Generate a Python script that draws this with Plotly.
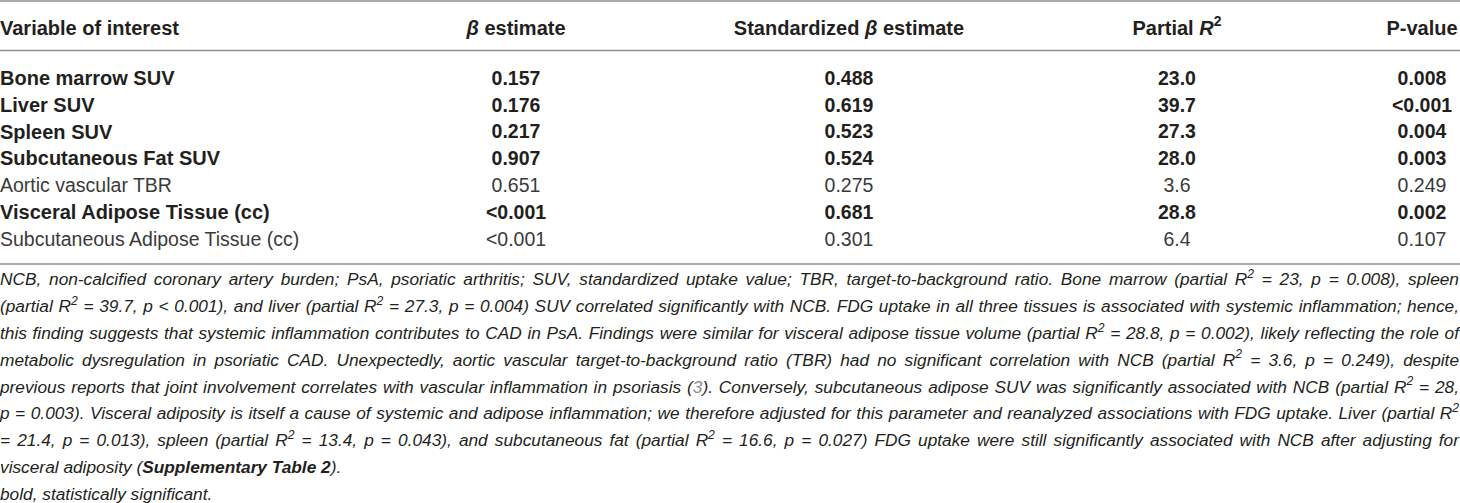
import plotly.graph_objects as go

# ---------------- data ----------------
variables = [
    "Bone marrow SUV",
    "Liver SUV",
    "Spleen SUV",
    "Subcutaneous Fat SUV",
    "Aortic vascular TBR",
    "Visceral Adipose Tissue (cc)",
    "Subcutaneous Adipose Tissue (cc)",
]
beta_estimate = ["0.157", "0.176", "0.217", "0.907", "0.651", "&lt;0.001", "&lt;0.001"]
std_beta_estimate = ["0.488", "0.619", "0.523", "0.524", "0.275", "0.681", "0.301"]
partial_r2 = ["23.0", "39.7", "27.3", "28.0", "3.6", "28.8", "6.4"]
p_value = ["0.008", "&lt;0.001", "0.004", "0.003", "0.249", "0.002", "0.107"]
significant = [True, True, True, True, False, True, False]

headers = [
    "Variable of interest",
    "<i>β</i> estimate",
    "Standardized <i>β</i> estimate",
    "Partial <i>R</i><sup>2</sup>",
    "P-value",
]

footnote_lines = [
    "NCB, non-calcified coronary artery burden; PsA, psoriatic arthritis; SUV, standardized uptake value; TBR, target-to-background ratio. Bone marrow (partial R<sup>2</sup> = 23, p = 0.008), spleen",
    "(partial R<sup>2</sup> = 39.7, p &lt; 0.001), and liver (partial R<sup>2</sup> = 27.3, p = 0.004) SUV correlated significantly with NCB. FDG uptake in all three tissues is associated with systemic inflammation; hence,",
    "this finding suggests that systemic inflammation contributes to CAD in PsA. Findings were similar for visceral adipose tissue volume (partial R<sup>2</sup> = 28.8, p = 0.002), likely reflecting the role of",
    "metabolic dysregulation in psoriatic CAD. Unexpectedly, aortic vascular target-to-background ratio (TBR) had no significant correlation with NCB (partial R<sup>2</sup> = 3.6, p = 0.249), despite",
    "previous reports that joint involvement correlates with vascular inflammation in psoriasis (<span style='color:#8a8a8a'>3</span>). Conversely, subcutaneous adipose SUV was significantly associated with NCB (partial R<sup>2</sup> = 28,",
    "p = 0.003). Visceral adiposity is itself a cause of systemic and adipose inflammation; we therefore adjusted for this parameter and reanalyzed associations with FDG uptake. Liver (partial R<sup>2</sup>",
    "= 21.4, p = 0.013), spleen (partial R<sup>2</sup> = 13.4, p = 0.043), and subcutaneous fat (partial R<sup>2</sup> = 16.6, p = 0.027) FDG uptake were still significantly associated with NCB after adjusting for",
    "visceral adiposity (<b>Supplementary Table 2</b>).",
    "bold, statistically significant.",
]
justified_lines = 7  # first lines of the note are justified to full width

# ---------------- layout constants ----------------
W, H = 1460, 503
FONT = "Liberation Sans, Arial, Helvetica, sans-serif"
TXT = "#231f20"
LIGHT = "#3a3a3a"
RULE = "#8f8f8f"
HEAD_SIZE = 20
BOLD_SIZE = 20
LIGHT_SIZE = 19.5
NUM_SIZE = 19.5
FOOT_SIZE = 17.3

header_y = 29.5
row_y0, row_dy = 80, 26.8
rule_ys = [1, 50.5, 264]
foot_y0, foot_dy = 281, 26.8

col_x = [0, 516, 849, 1177, 1422]

row_ys = [row_y0 + i * row_dy for i in range(len(variables))]
foot_ys = [foot_y0 + i * foot_dy for i in range(len(footnote_lines))]


def fmt(vals):
    return [f"<b>{v}</b>" if s else v for v, s in zip(vals, significant)]


fig = go.Figure()

# rules (drawn as line traces on the same axes)
for ry in rule_ys:
    fig.add_trace(go.Scatter(
        x=[0, W], y=[ry, ry], mode="lines", line=dict(color=RULE, width=1.6),
        hoverinfo="skip", showlegend=False))

# header
fig.add_trace(go.Scatter(
    x=[col_x[0]], y=[header_y], mode="text", text=[f"<b>{headers[0]}</b>"],
    textposition="middle right", textfont=dict(family=FONT, size=HEAD_SIZE, color=TXT),
    hoverinfo="skip", showlegend=False))
fig.add_trace(go.Scatter(
    x=col_x[1:], y=[header_y] * 4, mode="text", text=[f"<b>{h}</b>" for h in headers[1:]],
    textposition="middle center", textfont=dict(family=FONT, size=HEAD_SIZE, color=TXT),
    hoverinfo="skip", showlegend=False))

# body
colors = [TXT if s else LIGHT for s in significant]
label_sizes = [BOLD_SIZE if s else LIGHT_SIZE for s in significant]
fig.add_trace(go.Scatter(
    x=[col_x[0]] * len(variables), y=row_ys, mode="text", text=fmt(variables),
    textposition="middle right",
    textfont=dict(family=FONT, size=label_sizes, color=colors),
    hoverinfo="skip", showlegend=False))
for cx, vals in zip(col_x[1:], [beta_estimate, std_beta_estimate, partial_r2, p_value]):
    fig.add_trace(go.Scatter(
        x=[cx] * len(vals), y=row_ys, mode="text", text=fmt(vals),
        textposition="middle center",
        textfont=dict(family=FONT, size=NUM_SIZE, color=colors),
        hoverinfo="skip", showlegend=False))

# footnote (last trace)
fig.add_trace(go.Scatter(
    x=[0] * len(footnote_lines), y=foot_ys, mode="text", text=footnote_lines,
    textposition="middle right",
    textfont=dict(family=FONT, size=FOOT_SIZE, color=TXT, style="italic"),
    hoverinfo="skip", showlegend=False))

fig.update_layout(
    width=W, height=H, margin=dict(l=0, r=0, t=0, b=0),
    paper_bgcolor="white", plot_bgcolor="white",
    xaxis=dict(range=[0, W], visible=False, fixedrange=True),
    yaxis=dict(range=[H, 0], visible=False, fixedrange=True),
)

# remove the page margin and justify the note lines (word spacing), as in the source
post = """
document.body.style.margin = '0';
var gd = document.getElementById('{plot_id}');
var target = %d;
var nJust = %d;
var traces = gd.querySelectorAll('g.scatterlayer g.trace');
var last = traces[traces.length - 1];
var texts = last.querySelectorAll('g.textpoint text');
texts.forEach(function(t, idx) {
  if (idx >= nJust) return;
  var w = t.getComputedTextLength();
  var n = (t.textContent.match(/ /g) || []).length;
  if (n > 0) { t.style.wordSpacing = ((target - w) / n) + 'px'; }
});
""" % (W - 1, justified_lines)

fig.write_html("out.html", post_script=post, config={"displayModeBar": False})
